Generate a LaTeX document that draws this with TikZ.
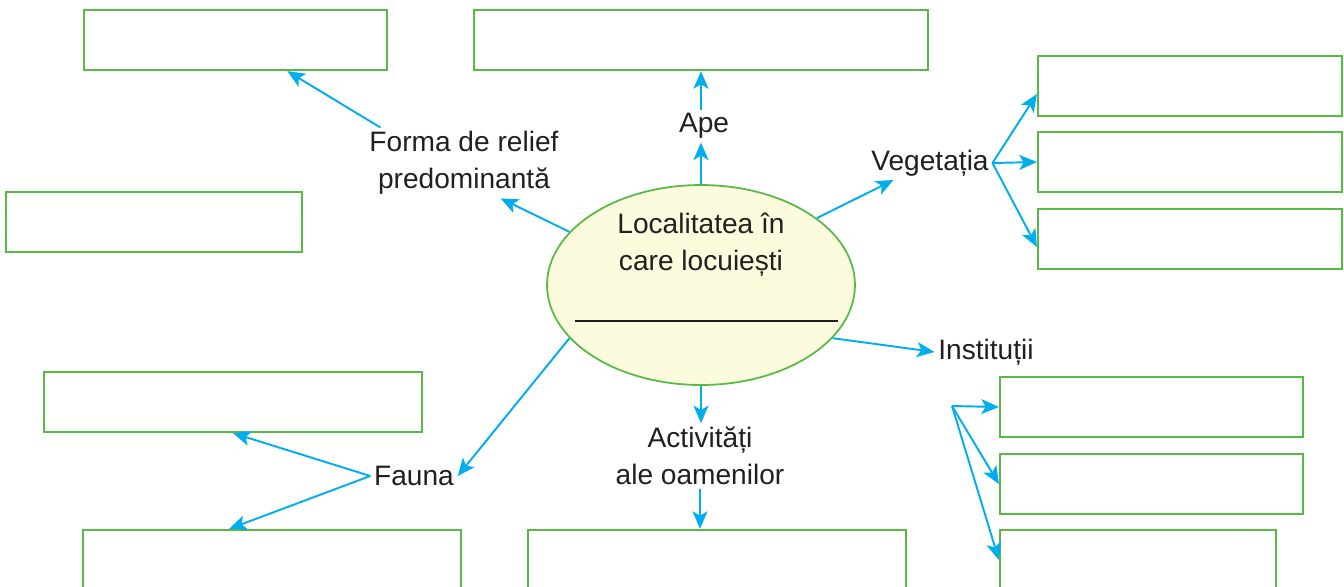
\documentclass[tikz,border=0pt]{standalone}
\usepackage{fontspec}
\setmainfont{Liberation Sans}
\usetikzlibrary{arrows.meta,shapes.geometric}
\definecolor{boxgreen}{RGB}{88,185,71}
\definecolor{arrowblue}{RGB}{0,174,239}
\definecolor{ovalfill}{RGB}{252,251,222}
\definecolor{inkgray}{RGB}{35,31,32}

\begin{document}
\begin{tikzpicture}[
    x=0.02cm, y=-0.02cm,
    font=\fontsize{16}{21}\selectfont,
    text=inkgray,
    % Node styles
    answer/.style={draw=boxgreen, line width=1.3pt, minimum height=1.2cm, inner sep=0pt},
    topic/.style={align=center, inner sep=2pt},
    oval/.style={ellipse, draw=boxgreen, line width=1pt, fill=ovalfill, minimum width=6.16cm, minimum height=4cm, inner sep=0pt},
    arrow/.style={-{Stealth[length=10pt,width=8.5pt,inset=2.5pt]}, line width=1.1pt, draw=arrowblue},
]
    \clip (0,0) rectangle (1344,586);

    % Centre
    \node[oval] (loc) at (701,285) {};
    \node[topic] (loctext) at (701,245) {Localitatea în\\care locuiești};
    \draw[line width=0.7pt, inkgray] ([xshift=-2.52cm,yshift=-0.72cm]loc.center) -- ([xshift=2.74cm,yshift=-0.72cm]loc.center);

    % Topics
    \node[topic] (forma) at (464,163) {Forma de relief\\predominantă};
    \node[topic] (ape) at (704,126) {Ape};
    \node[topic] (veg) at (930,163) {Vegetația};
    \node[topic] (inst) at (986,352) {Instituții};
    \node[topic] (fauna) at (414,476) {Fauna};
    \node[topic] (act) at (700,456) {Activități\\ale oamenilor};

    % Answer boxes
    \node[answer, minimum width=6.06cm] (formabox) at (235.5,40) {};
    \node[answer, minimum width=9.08cm] (apebox) at (701,40) {};
    \node[answer, minimum width=5.92cm] (extrabox) at (154,222) {};
    \node[answer, minimum width=6.08cm] (vega) at (1190,86) {};
    \node[answer, minimum width=6.08cm] (vegb) at (1190,162) {};
    \node[answer, minimum width=6.08cm] (vegc) at (1190,239) {};
    \node[answer, minimum width=6.06cm] (insta) at (1151.5,407) {};
    \node[answer, minimum width=6.06cm] (instb) at (1151.5,484) {};
    \node[answer, minimum width=5.52cm] (instc) at (1138,560) {};
    \node[answer, minimum width=7.56cm] (faunaa) at (233,402) {};
    \node[answer, minimum width=7.56cm] (faunab) at (272,560) {};
    \node[answer, minimum width=7.56cm] (actbox) at (717,560) {};

    \coordinate (instfork) at (952,406);

    % Connections
    \draw[arrow] (loc.158) -- (forma.-44);
    \draw[arrow] (forma.157) -- (formabox.-31.5);
    \draw[arrow] (loc.north) -- (loc.north |- ape.south);
    \draw[arrow] (apebox.south |- ape.north) -- (apebox.south);
    \draw[arrow] (loc.30) -- (veg.205);
    \draw[arrow] (veg.east) -- (vega.183);
    \draw[arrow] (veg.east) -- (vegb.west);
    \draw[arrow] (veg.east) -- (vegc.183);
    \draw[arrow] (loc.-22) -- (inst.west);
    \draw[arrow] (instfork) -- (insta.west);
    \draw[arrow] (instfork) -- (instb.west);
    \draw[arrow] (instfork) -- (instc.west);
    \draw[arrow] (loc.south) -- (loc.south |- act.north);
    \draw[arrow] (act.south) -- (act.south |- actbox.north);
    \draw[arrow] (loc.202.5) -- (fauna.east);
    \draw[arrow] (fauna.west) -- (faunaa.south);
    \draw[arrow] (fauna.west) -- (faunab.144.5);

\end{tikzpicture}
\end{document}
